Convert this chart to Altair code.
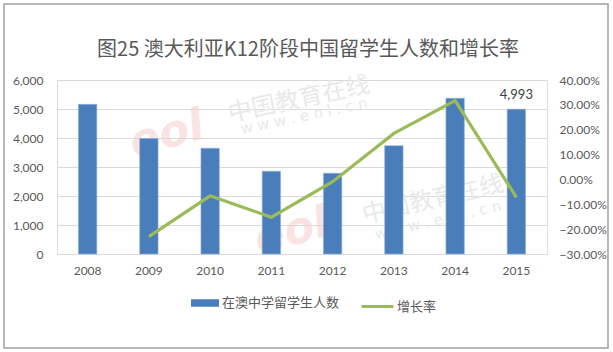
import altair as alt
import pandas as pd

years = ["2008", "2009", "2010", "2011", "2012", "2013", "2014", "2015"]
students = [5160, 3980, 3645, 2852, 2783, 3734, 5369, 4993]
growth = [None, -0.230, -0.066, -0.152, -0.009, 0.185, 0.317, -0.072]
bar_name = "在澳中学留学生人数"
line_name = "增长率"
title_text = "图25 澳大利亚K12阶段中国留学生人数和增长率"
left_ticks = [0, 1000, 2000, 3000, 4000, 5000, 6000]
right_ticks = [-0.3, -0.2, -0.1, 0.0, 0.1, 0.2, 0.3, 0.4]

df = pd.DataFrame({"year": years, "students": students, "growth": growth})
one = pd.DataFrame({"a": [0]})

GRAY = "#595959"
LAB_FONT = "Lato"
CJK = "Noto Sans CJK SC"

xaxis = alt.Axis(labelAngle=0, ticks=False, domainColor="#D9D9D9",
                 labelPadding=11, labelFontSize=12, labelColor=GRAY,
                 labelFont=LAB_FONT)
xscale = alt.Scale(paddingInner=0.7, paddingOuter=0.35)
yaxis = alt.Axis(values=left_ticks, format=",.0f", ticks=False, domain=False,
                 grid=True, gridColor="#D9D9D9", labelPadding=14,
                 labelFontSize=12, labelColor=GRAY, labelFont=LAB_FONT)
yscale = alt.Scale(domain=[0, 6000], nice=False)

base = alt.Chart(df)

bars = base.mark_bar(color="#4A7EBB", stroke="#8FB0DA", strokeWidth=0.6).encode(
    x=alt.X("year:N", title=None, scale=xscale, axis=xaxis),
    y=alt.Y("students:Q", title=None, scale=yscale, axis=yaxis),
    fill=alt.Fill("s:N", scale=alt.Scale(domain=[bar_name], range=["#4A7EBB"]),
                  legend=alt.Legend(orient="none", legendX=134, legendY=209,
                                    title=None, padding=0,
                                    symbolType="M-1,-0.27H1V0.27H-1Z", symbolSize=784,
                                    symbolStrokeWidth=0,
                                    labelFontSize=13, labelColor=GRAY, labelFont=CJK,
                                    labelOffset=3)),
).transform_calculate(s="'" + bar_name + "'")

label = base.mark_text(baseline="bottom", dy=-7, fontSize=13, color="#404040",
                       font=LAB_FONT).encode(
    x=alt.X("year:N", title=None, scale=xscale, axis=xaxis),
    y=alt.Y("students:Q", title=None, scale=yscale, axis=yaxis),
    text=alt.Text("students:Q", format=",.0f"),
).transform_filter(alt.datum.year == "2015")

line = base.mark_line(strokeWidth=3.2, color="#9BBB59").encode(
    x=alt.X("year:N", title=None, scale=xscale, axis=xaxis),
    y=alt.Y("growth:Q", title=None,
            scale=alt.Scale(domain=[-0.3, 0.4], nice=False),
            axis=alt.Axis(orient="right", values=right_ticks, format=".2%",
                          ticks=False, domain=False, grid=False, labelPadding=12,
                          labelFontSize=12, labelColor=GRAY, labelFont=LAB_FONT)),
    stroke=alt.Stroke("l:N", scale=alt.Scale(domain=[line_name], range=["#9BBB59"]),
                      legend=alt.Legend(orient="none", legendX=303, legendY=209,
                                        title=None, padding=0, symbolType="stroke",
                                        symbolSize=1024, symbolStrokeWidth=3,
                                        labelFontSize=13, labelColor=GRAY,
                                        labelFont=CJK, labelOffset=2)),
).transform_filter("datum.growth != null").transform_calculate(l="'" + line_name + "'")

ob = alt.Chart(one)
border = ob.mark_rect(filled=False, stroke="#A0A0A0", strokeWidth=1.5).encode(
    x=alt.value(-53), x2=alt.value(551), y=alt.value(-76), y2=alt.value(268))

wm_color = "#E9E9E9"
wm_pink = "#F6CDCD"
wm1 = ob.mark_text(text="中国教育在线", font=CJK, fontSize=24, angle=348,
                   color=wm_color, align="center", baseline="middle").encode(
    x=alt.value(242), y=alt.value(20))
wm1b = ob.mark_text(text="w w w . e o l . c n", font="DejaVu Sans", fontSize=15,
                    angle=348, color=wm_color, align="center",
                    baseline="middle").encode(x=alt.value(247), y=alt.value(36))
wm2 = ob.mark_text(text="中国教育在线", font=CJK, fontSize=24, angle=347,
                   color=wm_color, align="center", baseline="middle").encode(
    x=alt.value(376), y=alt.value(120))
wm2b = ob.mark_text(text="w w w . e o l . c n", font="DejaVu Sans", fontSize=15,
                    angle=347, color=wm_color, align="center",
                    baseline="middle").encode(x=alt.value(381), y=alt.value(140))
logo1 = ob.mark_text(text="eol", font="DejaVu Sans", fontSize=44, fontWeight="bold",
                     fontStyle="italic", angle=345, color=wm_pink, opacity=0.55,
                     align="center", baseline="middle").encode(
    x=alt.value(110), y=alt.value(55))
logo2 = ob.mark_text(text="eol", font="DejaVu Sans", fontSize=44, fontWeight="bold",
                     fontStyle="italic", angle=345, color=wm_pink, opacity=0.55,
                     align="center", baseline="middle").encode(
    x=alt.value(235), y=alt.value(152))

left = alt.layer(border, wm1, wm1b, wm2, wm2b, logo1, logo2, bars, label)

chart = alt.layer(left, line).resolve_scale(
    y="independent", fill="independent", stroke="independent"
).properties(
    width=490, height=174,
    autosize=alt.AutoSizeParams(type="none"),
    padding={"left": 57, "top": 80, "right": 66, "bottom": 98},
    title=alt.TitleParams(title_text, font=CJK, fontSize=20, fontWeight="normal",
                          color=GRAY, anchor="middle", dx=6, offset=0,
                          baseline="bottom", dy=77),
).configure_view(strokeWidth=0).configure(background="white")

chart.save("out.html", embed_options={"renderer": "svg", "actions": False})
